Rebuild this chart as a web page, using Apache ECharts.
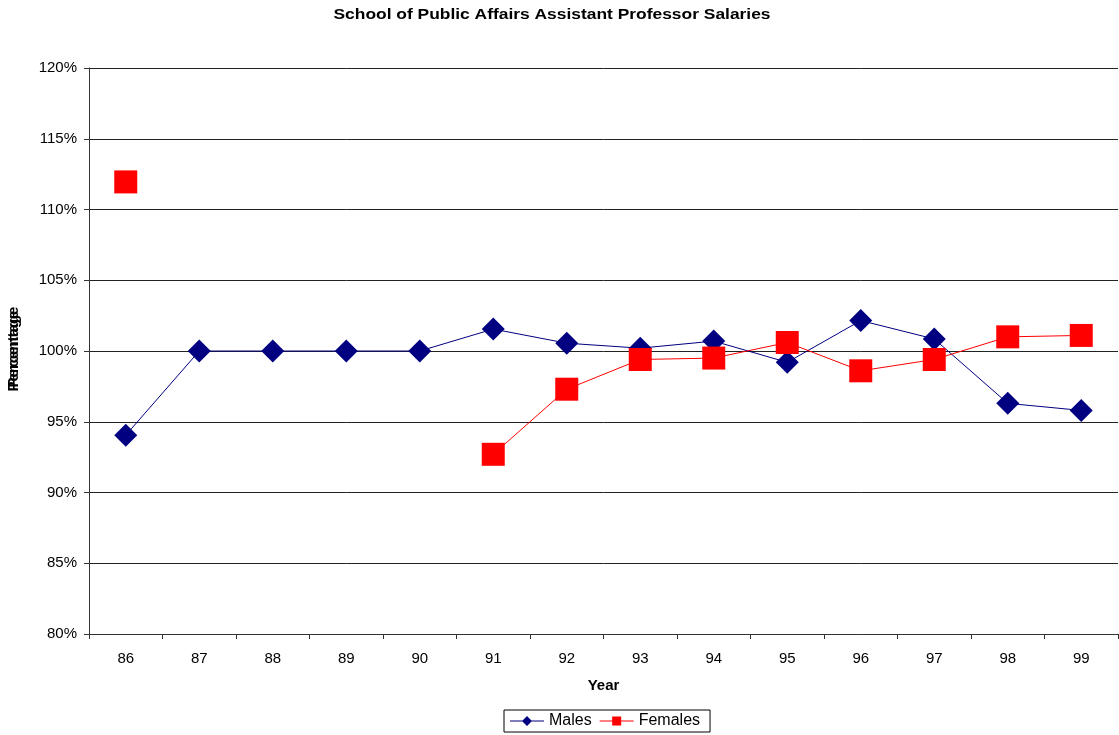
<!DOCTYPE html>
<html>
<head>
<meta charset="utf-8">
<script src="https://cdn.jsdelivr.net/npm/echarts@6/dist/echarts.min.js"></script>
<style>html,body{margin:0;padding:0;background:#fff}#c{width:1119px;height:735px}</style>
</head>
<body>
<div id="c"></div>
<script>
var years = ['86','87','88','89','90','91','92','93','94','95','96','97','98','99'];
var males = [94.05, 100, 100, 100, 100, 101.55, 100.55, 100.2, 100.7, 99.2, 102.15, 100.85, 96.3, 95.8];
var females = [111.95, null, null, null, null, 92.7, 97.3, 99.4, 99.5, 100.6, 98.6, 99.4, 101.0, 101.1];
var yTicks = {min: 80, max: 120, interval: 5};

var chart = echarts.init(document.getElementById('c'));
var font = '"Liberation Sans", Arial, sans-serif';
var diamondIcon = 'path://M0,4.5L34,4.5L34,5.5L0,5.5Z M17,0L22,5L17,10L12,5Z';
var rectIcon = 'path://M0,4.5L34,4.5L34,5.5L0,5.5Z M12.5,0.5L21.5,0.5L21.5,9.5L12.5,9.5Z';
chart.setOption({
  animation: false,
  backgroundColor: '#fff',
  grid: {left: 89, right: 1, top: 68, bottom: 101, containLabel: false, outerBoundsMode: 'none'},
  legend: {
    top: 710, left: 504,
    itemWidth: 34, itemHeight: 10, itemGap: 8,
    borderColor: '#000', borderWidth: 1, borderRadius: 0,
    padding: [3, 10, 3, 6],
    textStyle: {fontFamily: font, fontSize: 16, color: '#000'},
    data: [{name: 'Males', icon: diamondIcon}, {name: 'Females', icon: rectIcon}]
  },
  xAxis: {
    type: 'category', data: years, boundaryGap: true,
    name: 'Year', nameLocation: 'middle', nameGap: 44,
    nameTextStyle: {fontFamily: font, fontSize: 15, fontWeight: 'bold', color: '#000'},
    axisLine: {lineStyle: {color: '#333', width: 1}},
    axisTick: {show: true, length: 5, lineStyle: {color: '#333'}},
    axisLabel: {fontFamily: font, fontSize: 15, color: '#000', margin: 17},
    splitLine: {show: false}
  },
  yAxis: {
    type: 'value', min: yTicks.min, max: yTicks.max, interval: yTicks.interval,
    name: 'Percentage', nameLocation: 'middle', nameGap: 68, nameRotate: 90,
    nameTextStyle: {fontFamily: font, fontSize: 15, fontWeight: 'bold', color: '#000'},
    axisLine: {show: true, lineStyle: {color: '#333', width: 1}},
    axisTick: {show: true, length: 5, lineStyle: {color: '#333'}},
    axisLabel: {fontFamily: font, fontSize: 15, color: '#000', margin: 12, formatter: '{value}%'},
    splitLine: {show: true, lineStyle: {color: '#222', width: 1}}
  },
  graphic: [{
    type: 'text', x: 552, y: 15, scaleX: 1.16,
    style: {text: 'School of Public Affairs Assistant Professor Salaries',
      font: 'bold 15px "Liberation Sans", Arial, sans-serif', fill: '#000',
      align: 'center', verticalAlign: 'middle'},
    silent: true
  }, {
    type: 'text', x: 14, y: 347, rotation: Math.PI / 2,
    style: {text: 'Percentage', font: 'bold 15px "Liberation Sans", Arial, sans-serif', fill: '#000',
      align: 'center', verticalAlign: 'middle'},
    silent: true
  }],
  series: [{
    name: 'Males', type: 'line', data: males,
    symbol: 'diamond', symbolSize: 23,
    lineStyle: {color: '#000080', width: 1},
    itemStyle: {color: '#000080'},
    z: 2
  }, {
    name: 'Females', type: 'line', data: females, connectNulls: false,
    symbol: 'rect', symbolSize: 23,
    lineStyle: {color: '#ff0000', width: 1},
    itemStyle: {color: '#ff0000'},
    z: 3
  }]
});
</script>
</body>
</html>
